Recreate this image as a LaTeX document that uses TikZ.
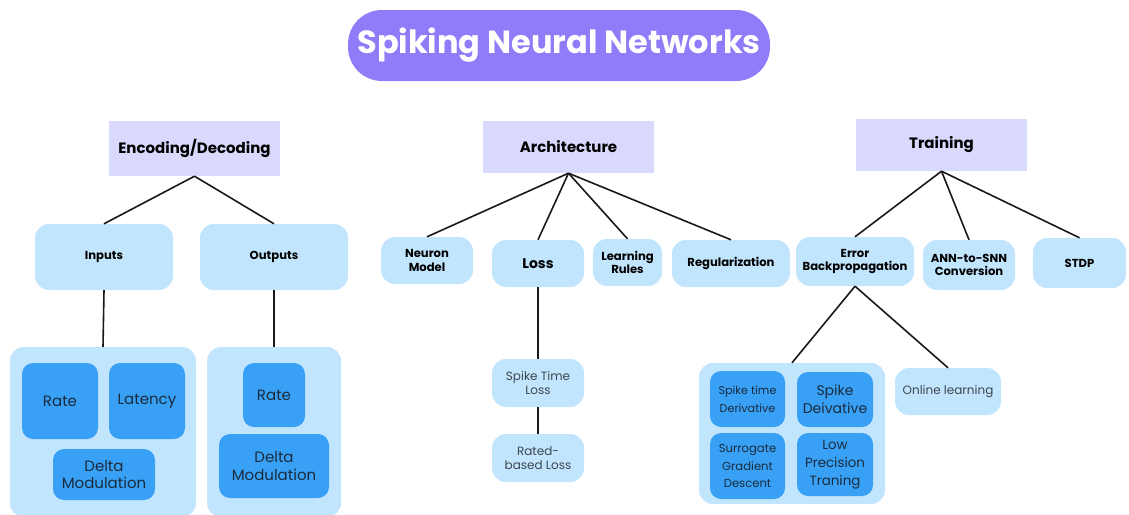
\documentclass[tikz,border=0pt]{standalone}
\usepackage{fontspec}
\setmainfont{Poppins}
\newcommand{\fsz}[1]{\fontsize{#1pt}{\dimexpr #1pt*118/100\relax}\selectfont}
\definecolor{titlepurple}{HTML}{8E7CF8}
\definecolor{lavender}{HTML}{D9D8FD}
\definecolor{lightblue}{HTML}{C2E5FE}
\definecolor{deepblue}{HTML}{38A1F5}
\definecolor{navytext}{HTML}{1B2B3D}
\definecolor{graytext}{HTML}{3D4650}
\tikzset{
  box/.style={inner sep=0pt, align=center, anchor=center},
  titlebox/.style={box, fill=titlepurple, rounded corners=34pt, text=white, font=\fsz{32}\bfseries},
  headbox/.style={box, fill=lavender, font=\fsz{15}\bfseries},
  catbox/.style={box, fill=lightblue, rounded corners=14pt, font=\fsz{11.6}\bfseries},
  leafbox/.style={box, fill=lightblue, rounded corners=14pt, text=graytext, font=\fsz{12}},
  groupbox/.style={box, fill=lightblue, rounded corners=14pt},
  itembox/.style={box, fill=deepblue, rounded corners=11pt, text=navytext, font=\fsz{15}},
  link/.style={line width=1.6pt, black!90}
}
\newcommand{\bx}[6]{\node[#1, minimum width=#4pt, minimum height=#5pt] (#2) at #3 {#6};}
\begin{document}
\begin{tikzpicture}[x=1pt, y=-1pt]
\useasboundingbox (0,0) rectangle (1129,514);
\begin{scope}
\clip (0,0) rectangle (1129,514);
% title
\bx{titlebox}{title}{(559,45.5)}{422}{71}{Spiking Neural Networks}
% section headers
\bx{headbox}{enc}{(194.5,148.5)}{171}{55}{Encoding/Decoding}
\bx{headbox}{arch}{(568.5,147)}{171}{52}{Architecture}
\bx{headbox}{train}{(941.5,145)}{171}{52}{Training}
% encoding / decoding branch
\bx{catbox}{inputs}{(104,257)}{138}{66}{Inputs}
\bx{catbox}{outputs}{(274,257)}{148}{66}{Outputs}
\bx{groupbox}{ingrp}{(103,432)}{186}{170}{}
\bx{groupbox}{outgrp}{(274,432)}{134}{170}{}
\bx{itembox}{rate1}{(60,401)}{76}{76}{Rate}
\bx{itembox}{latency}{(147,401)}{76}{76}{Latency}
\bx{itembox}{delta1}{(104,474.5)}{102}{51}{Delta\\Modulation}
\bx{itembox}{rate2}{(274,395)}{62}{64}{Rate}
\bx{itembox}{delta2}{(274,466)}{110}{64}{Delta\\Modulation}
% architecture branch
\bx{catbox}{neuron}{(427,260.5)}{92}{47}{Neuron\\Model}
\bx{catbox, font=\fsz{14}\bfseries}{loss}{(538,263.5)}{92}{47}{Loss}
\bx{catbox}{rules}{(627.5,262.5)}{69}{47}{Learning\\Rules}
\bx{catbox}{reg}{(731,263.5)}{118}{47}{Regularization}
\bx{leafbox}{stl}{(538,383)}{92}{48}{Spike Time\\Loss}
\bx{leafbox}{rbl}{(538,458)}{92}{48}{Rated-\\based Loss}
% training branch
\bx{catbox}{ebp}{(855,261.5)}{118}{49}{Error\\Backpropagation}
\bx{catbox}{ann}{(969,265)}{92}{50}{ANN-to-SNN\\Conversion}
\bx{catbox}{stdp}{(1079.5,263)}{93}{50}{STDP}
\bx{groupbox}{bpgrp}{(792,433.5)}{186}{141}{}
\bx{itembox}{std}{(747.5,399)}{75}{56}{\fsz{11.2}Spike time\\\fsz{11.2}Derivative}
\bx{itembox}{sd}{(835,399.5)}{76}{55}{\fsz{14}Spike\\\fsz{14}Deivative}
\bx{itembox}{sgd}{(747.5,466)}{75}{66}{\fsz{11.6}Surrogate\\\fsz{11.6}Gradient\\\fsz{11.6}Descent}
\bx{itembox}{lpt}{(835,464.5)}{76}{63}{\fsz{13.4}Low\\\fsz{13.4}Precision\\\fsz{13.4}Traning}
\bx{leafbox}{online}{(948,391.5)}{106}{47}{Online learning}
\end{scope}
% connectors
\draw[link] (enc.south) -- (inputs.north);
\draw[link] (enc.south) -- (outputs.north);
\draw[link] (inputs.south) -- (ingrp.north);
\draw[link] (outputs.south) -- (outgrp.north);
\foreach \n in {neuron,loss,rules,reg} \draw[link] (arch.south) -- (\n.north);
\draw[link] (loss.south) -- (stl.north);
\draw[link] (stl.south) -- (rbl.north);
\foreach \n in {ebp,ann,stdp} \draw[link] (train.south) -- (\n.north);
\draw[link] (ebp.south) -- (bpgrp.north);
\draw[link] (ebp.south) -- (online.north);
\end{tikzpicture}
\end{document}
